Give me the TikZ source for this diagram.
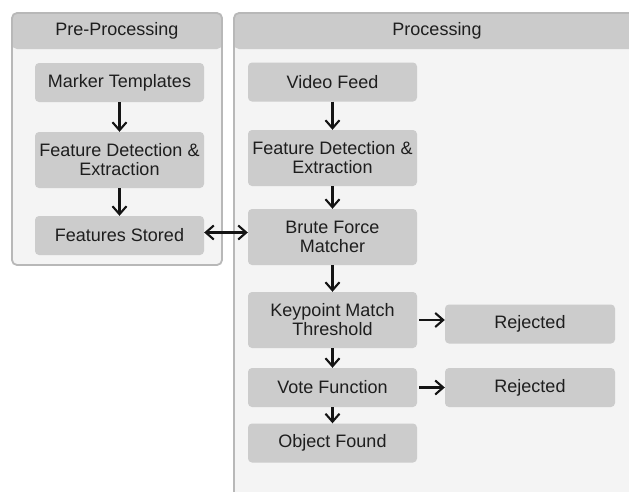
\documentclass[tikz,border=0pt]{standalone}
\usepackage{fontspec}
\setmainfont{Liberation Sans}
\usetikzlibrary{arrows.meta}
\definecolor{boxgray}{HTML}{CCCCCC}
\definecolor{headgray}{HTML}{CBCBCB}
\definecolor{panelbg}{HTML}{F4F4F4}
\definecolor{panelline}{HTML}{B8B8B8}
\definecolor{txt}{HTML}{1E1E1E}

\begin{document}
\begin{tikzpicture}[
  x=1pt, y=-1pt,
  font=\fontsize{18}{19}\selectfont, text=txt,
  panel/.style={draw=panelline, line width=1.8pt, fill=panelbg, rounded corners=5pt,
    path picture={\fill[headgray] (path picture bounding box.north west) rectangle ([yshift=-36pt]path picture bounding box.north east);}},
  head/.style={anchor=north, minimum height=37pt, inner sep=0pt},
  box/.style={fill=boxgray, rounded corners=4pt, align=center, minimum width=169pt, minimum height=39pt, inner sep=2pt},
  tall/.style={box, minimum height=56pt},
  fl/.style={-{Straight Barb[length=8pt, width=14pt, line width=2.1pt]}, line width=2.1pt, draw=black!92},
  both/.style={{Straight Barb[length=8pt, width=14pt, line width=2.1pt]}-{Straight Barb[length=8pt, width=14pt, line width=2.1pt]}, line width=2.1pt, draw=black!92},
]
\useasboundingbox (0,0) rectangle (629,491);
\clip (0,0) rectangle (629,491);
\fill[white] (0,0) rectangle (629,491);

% panels
\node[panel, minimum width=210pt, minimum height=252pt] (pre)  at (117,139) {};
\node[head] at (pre.north) {Pre-Processing};
\node[panel, minimum width=406pt, minimum height=520pt] (proc) at (437,273) {};
\node[head] at (proc.north) {Processing};

% pre-processing column
\node[box]  (mt)  at (119.5,82.5) {Marker Templates};
\node[tall] (fd1) at (119.5,160)  {Feature Detection \&\\Extraction};
\node[box]  (fs)  at (119.5,235.5) {Features Stored};

% processing column
\node[box]  (vf)  at (332.5,82)  {Video Feed};
\node[tall] (fd2) at (332.5,158) {Feature Detection \&\\Extraction};
\node[tall] (bf)  at (332.5,237) {Brute Force\\Matcher};
\node[tall] (kp)  at (332.5,320) {Keypoint Match\\Threshold};
\node[box]  (vt)  at (332.5,387.5) {Vote Function};
\node[box]  (of)  at (332.5,443) {Object Found};
\node[box, minimum width=170pt] (rj1) at (530,324)   {Rejected};
\node[box, minimum width=170pt] (rj2) at (530,387.5) {Rejected};

\draw[fl] (mt) -- (fd1);
\draw[fl] (fd1) -- (fs);
\draw[both] ([yshift=3pt]fs.east) -- ([yshift=3pt]fs.east -| bf.west);
\draw[fl] (vf) -- (fd2);
\draw[fl] (fd2) -- (bf);
\draw[fl] (bf) -- (kp);
\draw[fl] (kp) -- (vt);
\draw[fl] (vt) -- (of);
\draw[fl] ([xshift=2pt]kp.east) -- (kp.east -| rj1.west);
\draw[fl] ([xshift=2pt]vt.east) -- (rj2.west);
\end{tikzpicture}
\end{document}
